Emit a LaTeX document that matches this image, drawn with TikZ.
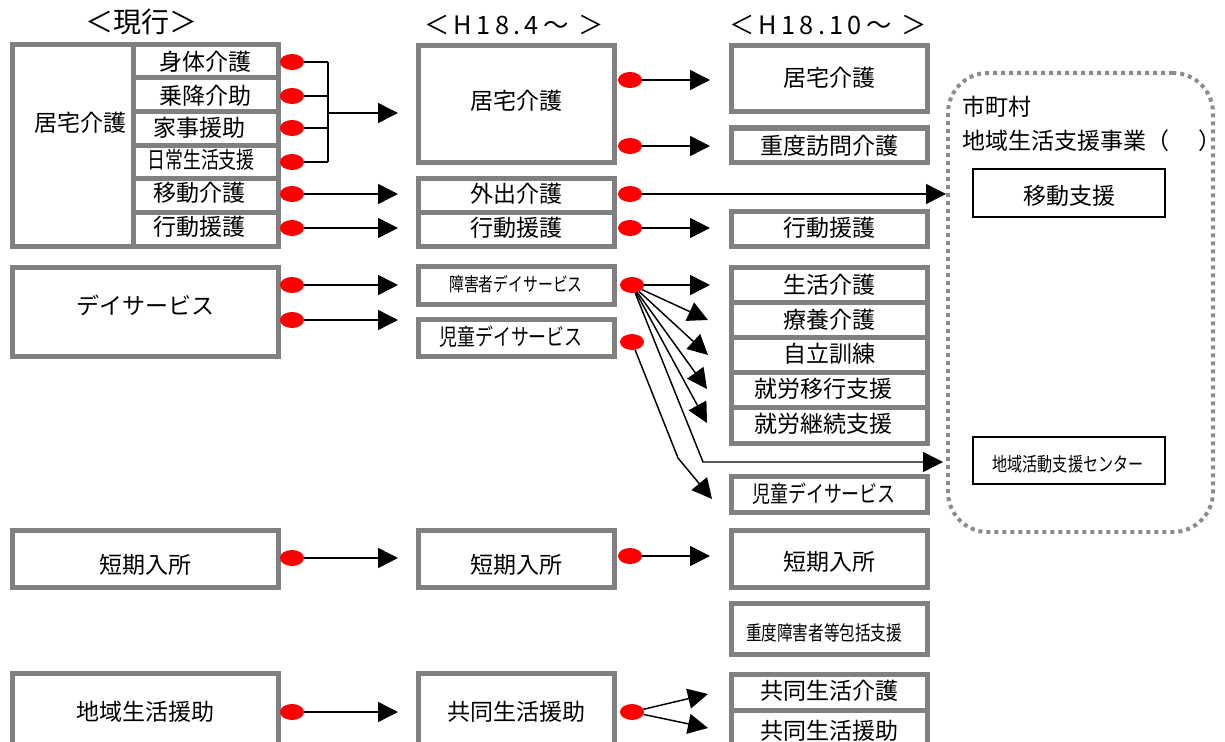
\documentclass[tikz,border=0pt]{standalone}
\usepackage{graphicx}
\usepackage{fontspec}
\setmainfont{Noto Sans CJK JP}
\newfontfamily\jpc[FakeStretch=0.78]{Noto Sans CJK JP}
\newfontfamily\jpls[LetterSpace=17]{Noto Sans CJK JP}
\usetikzlibrary{arrows.meta,fit,shapes.geometric}
\definecolor{boxgray}{HTML}{808080}
\definecolor{dotgray}{HTML}{8C8C8C}
\definecolor{dotred}{HTML}{FF0000}
\tikzset{
  gbox/.style={draw=boxgray, line width=3.75pt, fill=white, inner sep=0pt, outer sep=0pt},
  tbox/.style={draw=black, line width=1.5pt, fill=white, inner sep=0pt, outer sep=0pt},
  dotreg/.style={draw=dotgray, line width=3pt, dash pattern=on 3pt off 3pt, rounded corners=30pt, inner sep=0pt},
  lbl/.style={font=\fontsize{17.25pt}{20pt}\selectfont, inner sep=0pt},
  hdr/.style={font=\fontsize{19pt}{22pt}\jpls, inner sep=0pt},
  reddot/.style={ellipse, fill=dotred, minimum width=18pt, minimum height=12pt, inner sep=0pt, outer sep=0pt},
  conn/.style={line width=1.1pt, draw=black},
  arr/.style={conn, -{Triangle[length=15pt,width=15pt]}},
}
\newcommand\mybox[6][gbox]{\coordinate (#2-a) at (#3,#4); \coordinate (#2-b) at (#5,#6);
  \node[#1, fit=(#2-a)(#2-b)] (#2) {};}
\newcommand\mytext[5][lbl]{\node[#1] (#2) at (#3,#4) {#5};}
\newcommand\mydot[3]{\node[reddot] (#1) at (#2,#3) {};}
\begin{document}
\begin{tikzpicture}[x=0.75pt,y=-0.75pt]
\useasboundingbox (0,0) rectangle (1225,742);
% dotted region
\coordinate (reg-a) at (948,73); \coordinate (reg-b) at (1213,532);
\node[dotreg, fit=(reg-a)(reg-b)] (region) {};
\node[lbl, anchor=west] (regt1) at (962,107) {市町村};
\node[lbl, anchor=west] (regt2) at (962,141) {地域生活支援事業（\hspace{22pt}）};
\mybox[tbox]{idou}{973}{169}{1165}{217}
\mytext{idout}{1069}{196}{移動支援}
\mybox[tbox]{center}{973}{437}{1165}{484}
\mytext{centert}{1068}{464}{\fontsize{14.5pt}{16pt}\jpc 地域活動支援センター}
% headers
\node[font=\fontsize{21pt}{24pt}\selectfont, inner sep=0pt] (h1) at (141,22) {＜現行＞};
\mytext[hdr]{h2}{514}{25}{＜H18.4～ ＞}
\mytext[hdr]{h3}{828}{25}{＜H18.10～ ＞}
% column 1
\mybox{c1kyo}{12}{45}{133}{246}
\mytext{c1kyot}{80}{123}{居宅介護}
\mybox{c1a}{133}{45}{278}{78}
\mybox{c1b}{133}{78}{278}{112}
\mybox{c1c}{133}{112}{278}{145}
\mybox{c1d}{133}{145}{278}{178}
\mybox{c1e}{133}{178}{278}{212}
\mybox{c1f}{133}{212}{278}{246}
\mytext{c1at}{205}{62}{身体介護}
\mytext{c1bt}{205}{96}{乗降介助}
\mytext{c1ct}{199}{128}{家事援助}
\mytext{c1dt}{201}{160}{\jpc 日常生活支援}
\mytext{c1et}{199}{193}{移動介護}
\mytext{c1ft}{199}{227}{行動援護}
\mybox{c1day}{12}{267}{278}{356}
\mytext{c1dayt}{145}{305}{デイサービス}
\mybox{c1tan}{12}{530}{278}{587}
\mytext{c1tant}{145}{565}{短期入所}
\mybox{c1chi}{12}{673}{278}{760}
\mytext{c1chit}{145}{712}{地域生活援助}
% column 2
\mybox{c2kyo}{418}{46}{614}{162}
\mytext{c2kyot}{516}{101}{居宅介護}
\mybox{c2gai}{418}{178}{614}{212}
\mytext{c2gait}{516}{194}{外出介護}
\mybox{c2kou}{418}{212}{614}{246}
\mytext{c2kout}{516}{228}{行動援護}
\mybox{c2sho}{418}{266}{614}{304}
\mytext{c2shot}{516}{284}{\fontsize{14.25pt}{16pt}\jpc 障害者デイサービス}
\mybox{c2ji}{418}{319}{614}{356}
\mytext{c2jit}{511}{337}{\jpc 児童デイサービス}
\mybox{c2tan}{418}{530}{614}{587}
\mytext{c2tant}{516}{565}{短期入所}
\mybox{c2kyd}{418}{673}{614}{760}
\mytext{c2kydt}{516}{712}{共同生活援助}
% column 3
\mybox{c3kyo}{731}{46}{927}{112}
\mytext{c3kyot}{829}{78}{居宅介護}
\mybox{c3jud}{731}{128}{927}{162}
\mytext{c3judt}{829}{146}{重度訪問介護}
\mybox{c3kou}{731}{211}{927}{246}
\mytext{c3kout}{829}{228}{行動援護}
\mybox{c3sei}{731}{267}{927}{302}
\mybox{c3ryo}{731}{302}{927}{337}
\mybox{c3jir}{731}{337}{927}{372}
\mybox{c3iko}{731}{372}{927}{407}
\mybox{c3kei}{731}{407}{927}{443}
\mytext{c3seit}{829}{285}{生活介護}
\mytext{c3ryot}{829}{320}{療養介護}
\mytext{c3jirt}{829}{354}{自立訓練}
\mytext{c3ikot}{823}{389}{就労移行支援}
\mytext{c3keit}{823}{424}{就労継続支援}
\mybox{c3ji}{731}{476}{927}{512}
\mytext{c3jit}{824}{494}{\jpc 児童デイサービス}
\mybox{c3tan}{731}{530}{927}{587}
\mytext{c3tant}{829}{562}{短期入所}
\mybox{c3hou}{731}{603}{927}{654}
\mytext{c3hout}{824}{633}{\fontsize{15pt}{17pt}\jpc 重度障害者等包括支援}
\mybox{c3kgo}{731}{674}{927}{710}
\mybox{c3ken}{731}{710}{927}{760}
\mytext{c3kgot}{829}{691}{共同生活介護}
\mytext{c3kent}{829}{731}{共同生活援助}
% coordinates
\coordinate (bj1) at (328,62); \coordinate (bj2) at (328,96);
\coordinate (bj3) at (328,128); \coordinate (bj4) at (328,162);
\coordinate (bjm) at (328,113); \coordinate (t1) at (398,113);
\coordinate (t2) at (398,194); \coordinate (t3) at (398,228);
\coordinate (t4) at (398,285); \coordinate (t5) at (398,320);
\coordinate (t6) at (398,558); \coordinate (t7) at (398,712);
\coordinate (u1) at (710,80); \coordinate (u2) at (710,146);
\coordinate (u3) at (946,194); \coordinate (u4) at (710,228);
\coordinate (f1) at (710,285); \coordinate (f2) at (708,320);
\coordinate (f3) at (708,355); \coordinate (f4) at (707,389);
\coordinate (f5) at (707,423); \coordinate (fk) at (703,462);
\coordinate (f6) at (943,462);
\coordinate (gk) at (678,458); \coordinate (g1) at (712,499);
\coordinate (u5) at (710,556);
\coordinate (k1) at (708,694); \coordinate (k2) at (708,728);
% connectors col1
\draw[conn] (bj1) -- (bj4);
\mydot{d1}{292}{62} \mydot{d2}{292}{96} \mydot{d3}{292}{128} \mydot{d4}{292}{162}
\mydot{d5}{292}{194} \mydot{d6}{292}{228} \mydot{d7}{292}{285} \mydot{d8}{292}{320}
\mydot{d9}{292}{558} \mydot{d10}{292}{712}
\draw[conn] (d1) -- (bj1); \draw[conn] (d2) -- (bj2);
\draw[conn] (d3) -- (bj3); \draw[conn] (d4) -- (bj4);
\draw[arr] (bjm) -- (t1);
\draw[arr] (d5) -- (t2); \draw[arr] (d6) -- (t3);
\draw[arr] (d7) -- (t4); \draw[arr] (d8) -- (t5);
\draw[arr] (d9) -- (t6); \draw[arr] (d10) -- (t7);
% connectors col2
\mydot{e1}{630}{80} \mydot{e2}{630}{146} \mydot{e3}{630}{194} \mydot{e4}{630}{228}
\mydot{e5}{632}{285} \mydot{e6}{632}{342} \mydot{e7}{630}{556} \mydot{e8}{632}{712}
\draw[arr] (e1) -- (u1); \draw[arr] (e2) -- (u2);
\draw[arr] (e3) -- (u3); \draw[arr] (e4) -- (u4);
\draw[arr] (e5) -- (f1); \draw[arr] (e5) -- (f2); \draw[arr] (e5) -- (f3);
\draw[arr] (e5) -- (f4); \draw[arr] (e5) -- (f5);
\draw[arr] (e5) -- (fk) -- (f6);
\draw[arr] (e6) -- (gk) -- (g1);
\draw[arr] (e7) -- (u5);
\draw[arr] (e8) -- (k1); \draw[arr] (e8) -- (k2);
\end{tikzpicture}
\end{document}
